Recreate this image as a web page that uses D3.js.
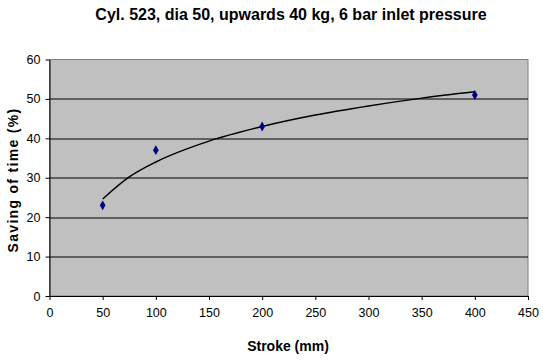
<!DOCTYPE html>
<html>
<head>
<meta charset="utf-8">
<script src="https://cdn.jsdelivr.net/npm/d3@7"></script>
<style>
  body { margin: 0; background: #fff; }
  text { font-family: "Liberation Sans", Arial, sans-serif; }
</style>
</head>
<body>
<div id="chart"></div>
<script>
// Measured points
const strokes = [50, 100, 200, 400];
const savings = [23, 37, 43, 51];

// Trendline (logarithmic fit)
const trendX = [50, 75, 100, 150, 200, 250, 300, 350, 400];
const trendY = [24.6, 30.2, 34.0, 39.3, 43.0, 45.9, 48.2, 50.2, 51.8];

const xTicks = [0, 50, 100, 150, 200, 250, 300, 350, 400, 450];
const yTicks = [0, 10, 20, 30, 40, 50, 60];

const W = 543, H = 360;
const margin = {top: 59.5, right: 15, bottom: 64, left: 49.5};
const width = W - margin.left - margin.right;
const height = H - margin.top - margin.bottom;

const svg = d3.select('#chart')
  .append('svg')
  .attr('width', W)
  .attr('height', H);

const g = svg.append('g')
  .attr('transform', `translate(${margin.left}, ${margin.top})`);

const x = d3.scaleLinear().domain([0, 450]).range([0, width]);
const y = d3.scaleLinear().domain([0, 60]).range([height, 0]);

// plot background
g.append('rect')
  .attr('width', width)
  .attr('height', height)
  .attr('fill', '#c0c0c0')
  .attr('stroke', '#808080')
  .attr('stroke-width', 1);

// gridlines
g.selectAll('.grid')
  .data(yTicks.filter(d => d > 0 && d < 60))
  .enter()
  .append('line')
  .attr('x1', 0)
  .attr('x2', width)
  .attr('y1', d => Math.round(y(d)) + 0.5)
  .attr('y2', d => Math.round(y(d)) + 0.5)
  .attr('stroke', '#000')
  .attr('stroke-width', 1);

// axes
const xAxis = g.append('g')
  .attr('transform', `translate(0, ${height})`)
  .call(d3.axisBottom(x).tickValues(xTicks).tickSize(4).tickSizeOuter(0).tickPadding(8));
const yAxis = g.append('g')
  .call(d3.axisLeft(y).tickValues(yTicks).tickSize(4).tickSizeOuter(0).tickPadding(5));

[xAxis, yAxis].forEach(a => {
  a.select('.domain').attr('stroke', '#000');
  a.selectAll('.tick line').attr('stroke', '#000');
  a.selectAll('text')
    .attr('fill', '#000')
    .style('font-size', '12.5px')
    .style('font-family', '"Liberation Sans", Arial, sans-serif');
});

// trendline
const line = d3.line()
  .x((d, i) => x(trendX[i]))
  .y(d => y(d))
  .curve(d3.curveMonotoneX);

g.append('path')
  .datum(trendY)
  .attr('d', line)
  .attr('fill', 'none')
  .attr('stroke', '#000')
  .attr('stroke-width', 1.5);

// markers
g.selectAll('.pt')
  .data(strokes)
  .enter()
  .append('path')
  .attr('d', d3.symbol().type(d3.symbolDiamond).size(28))
  .attr('transform', (d, i) => `translate(${x(d)}, ${y(savings[i])})`)
  .attr('fill', '#000080');

// title and labels
svg.append('text')
  .attr('x', 291)
  .attr('y', 20)
  .attr('text-anchor', 'middle')
  .style('font-size', '16px')
  .style('font-weight', 'bold')
  .text('Cyl. 523, dia 50, upwards 40 kg, 6 bar inlet pressure');

svg.append('text')
  .attr('x', 288)
  .attr('y', 351)
  .attr('text-anchor', 'middle')
  .style('font-size', '14px')
  .style('font-weight', 'bold')
  .text('Stroke (mm)');

svg.append('text')
  .attr('transform', 'translate(18, 180) rotate(-90)')
  .attr('text-anchor', 'middle')
  .style('font-size', '14px')
  .style('font-weight', 'bold')
  .style('letter-spacing', '1.3px')
  .text('Saving of time (%)');
</script>
</body>
</html>
